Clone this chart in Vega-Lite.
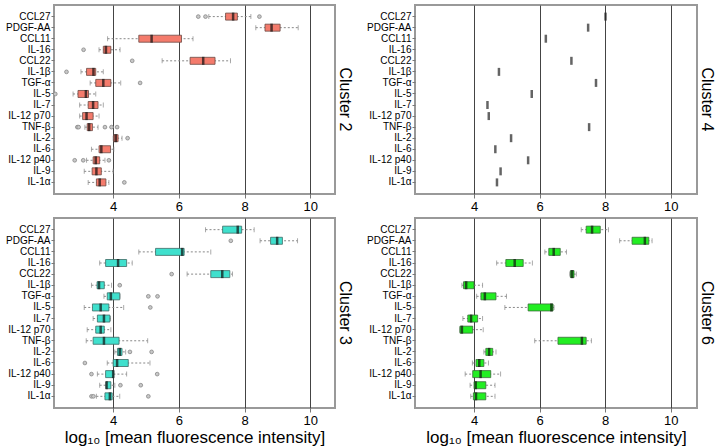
{
  "$schema": "https://vega.github.io/schema/vega-lite/v6.json",
  "background": "white",
  "padding": {"left": 4, "top": 4, "right": 0, "bottom": 0},
  "spacing": 3,
  "datasets": {
    "boxes": [
      {"cluster": "Cluster 2", "cytokine": "CCL27", "lo": 6.91, "q1": 7.42, "med": 7.65, "q3": 7.78, "hi": 8.19},
      {"cluster": "Cluster 2", "cytokine": "PDGF-AA", "lo": 8.34, "q1": 8.62, "med": 8.82, "q3": 9.08, "hi": 9.63},
      {"cluster": "Cluster 2", "cytokine": "CCL11", "lo": 3.83, "q1": 4.78, "med": 5.17, "q3": 6.08, "hi": 6.43},
      {"cluster": "Cluster 2", "cytokine": "IL-16", "lo": 3.57, "q1": 3.70, "med": 3.78, "q3": 3.93, "hi": 4.21},
      {"cluster": "Cluster 2", "cytokine": "CCL22", "lo": 5.49, "q1": 6.34, "med": 6.74, "q3": 7.10, "hi": 7.57},
      {"cluster": "Cluster 2", "cytokine": "IL-1β", "lo": 3.02, "q1": 3.19, "med": 3.40, "q3": 3.47, "hi": 3.70},
      {"cluster": "Cluster 2", "cytokine": "TGF-α", "lo": 3.30, "q1": 3.47, "med": 3.70, "q3": 3.93, "hi": 4.23},
      {"cluster": "Cluster 2", "cytokine": "IL-5", "lo": 2.78, "q1": 2.93, "med": 3.17, "q3": 3.25, "hi": 3.47},
      {"cluster": "Cluster 2", "cytokine": "IL-7", "lo": 2.98, "q1": 3.24, "med": 3.39, "q3": 3.54, "hi": 3.70},
      {"cluster": "Cluster 2", "cytokine": "IL-12 p70", "lo": 2.98, "q1": 3.07, "med": 3.19, "q3": 3.39, "hi": 3.57},
      {"cluster": "Cluster 2", "cytokine": "TNF-β", "lo": 3.14, "q1": 3.21, "med": 3.27, "q3": 3.37, "hi": 3.54},
      {"cluster": "Cluster 2", "cytokine": "IL-2", "lo": 4.00, "q1": 4.02, "med": 4.08, "q3": 4.15, "hi": 4.27},
      {"cluster": "Cluster 2", "cytokine": "IL-6", "lo": 3.34, "q1": 3.57, "med": 3.64, "q3": 3.92, "hi": 4.02},
      {"cluster": "Cluster 2", "cytokine": "IL-12 p40", "lo": 3.19, "q1": 3.39, "med": 3.47, "q3": 3.59, "hi": 3.75},
      {"cluster": "Cluster 2", "cytokine": "IL-9", "lo": 3.12, "q1": 3.36, "med": 3.49, "q3": 3.64, "hi": 4.00},
      {"cluster": "Cluster 2", "cytokine": "IL-1α", "lo": 3.24, "q1": 3.49, "med": 3.59, "q3": 3.78, "hi": 3.87},
      {"cluster": "Cluster 3", "cytokine": "CCL27", "lo": 6.81, "q1": 7.33, "med": 7.79, "q3": 7.91, "hi": 8.29},
      {"cluster": "Cluster 3", "cytokine": "PDGF-AA", "lo": 8.47, "q1": 8.79, "med": 8.99, "q3": 9.15, "hi": 9.61},
      {"cluster": "Cluster 3", "cytokine": "CCL11", "lo": 4.78, "q1": 5.29, "med": 6.10, "q3": 6.16, "hi": 6.97},
      {"cluster": "Cluster 3", "cytokine": "IL-16", "lo": 3.59, "q1": 3.77, "med": 4.15, "q3": 4.41, "hi": 4.58},
      {"cluster": "Cluster 3", "cytokine": "CCL22", "lo": 6.25, "q1": 6.97, "med": 7.32, "q3": 7.55, "hi": 7.63},
      {"cluster": "Cluster 3", "cytokine": "IL-1β", "lo": 3.34, "q1": 3.51, "med": 3.57, "q3": 3.73, "hi": 3.95},
      {"cluster": "Cluster 3", "cytokine": "TGF-α", "lo": 3.72, "q1": 3.82, "med": 3.93, "q3": 4.20, "hi": 4.21},
      {"cluster": "Cluster 3", "cytokine": "IL-5", "lo": 3.12, "q1": 3.37, "med": 3.62, "q3": 3.87, "hi": 4.32},
      {"cluster": "Cluster 3", "cytokine": "IL-7", "lo": 3.39, "q1": 3.52, "med": 3.72, "q3": 3.90, "hi": 3.92},
      {"cluster": "Cluster 3", "cytokine": "IL-12 p70", "lo": 3.21, "q1": 3.47, "med": 3.62, "q3": 3.73, "hi": 3.93},
      {"cluster": "Cluster 3", "cytokine": "TNF-β", "lo": 3.18, "q1": 3.39, "med": 3.72, "q3": 4.18, "hi": 5.05},
      {"cluster": "Cluster 3", "cytokine": "IL-2", "lo": 4.05, "q1": 4.13, "med": 4.20, "q3": 4.27, "hi": 4.38},
      {"cluster": "Cluster 3", "cytokine": "IL-6", "lo": 3.82, "q1": 4.00, "med": 4.12, "q3": 4.46, "hi": 5.12},
      {"cluster": "Cluster 3", "cytokine": "IL-12 p40", "lo": 3.52, "q1": 3.77, "med": 4.00, "q3": 4.02, "hi": 4.41},
      {"cluster": "Cluster 3", "cytokine": "IL-9", "lo": 3.59, "q1": 3.78, "med": 3.80, "q3": 3.93, "hi": 4.05},
      {"cluster": "Cluster 3", "cytokine": "IL-1α", "lo": 3.49, "q1": 3.75, "med": 3.90, "q3": 3.97, "hi": 4.20},
      {"cluster": "Cluster 6", "cytokine": "CCL27", "lo": 7.27, "q1": 7.42, "med": 7.60, "q3": 7.85, "hi": 8.10},
      {"cluster": "Cluster 6", "cytokine": "PDGF-AA", "lo": 8.44, "q1": 8.82, "med": 9.21, "q3": 9.33, "hi": 9.43},
      {"cluster": "Cluster 6", "cytokine": "CCL11", "lo": 6.16, "q1": 6.28, "med": 6.43, "q3": 6.63, "hi": 6.82},
      {"cluster": "Cluster 6", "cytokine": "IL-16", "lo": 4.69, "q1": 4.97, "med": 5.24, "q3": 5.50, "hi": 5.78},
      {"cluster": "Cluster 6", "cytokine": "CCL22", "lo": 6.92, "q1": 6.94, "med": 6.99, "q3": 7.05, "hi": 7.12},
      {"cluster": "Cluster 6", "cytokine": "IL-1β", "lo": 3.63, "q1": 3.68, "med": 3.76, "q3": 4.00, "hi": 4.26},
      {"cluster": "Cluster 6", "cytokine": "TGF-α", "lo": 4.08, "q1": 4.21, "med": 4.33, "q3": 4.67, "hi": 4.99},
      {"cluster": "Cluster 6", "cytokine": "IL-5", "lo": 4.94, "q1": 5.65, "med": 6.36, "q3": 6.41, "hi": 6.44},
      {"cluster": "Cluster 6", "cytokine": "IL-7", "lo": 3.66, "q1": 3.81, "med": 3.91, "q3": 4.11, "hi": 4.26},
      {"cluster": "Cluster 6", "cytokine": "IL-12 p70", "lo": 3.57, "q1": 3.57, "med": 3.63, "q3": 3.96, "hi": 4.28},
      {"cluster": "Cluster 6", "cytokine": "TNF-β", "lo": 5.85, "q1": 6.56, "med": 7.29, "q3": 7.42, "hi": 7.58},
      {"cluster": "Cluster 6", "cytokine": "IL-2", "lo": 4.30, "q1": 4.36, "med": 4.46, "q3": 4.57, "hi": 4.67},
      {"cluster": "Cluster 6", "cytokine": "IL-6", "lo": 3.95, "q1": 4.06, "med": 4.16, "q3": 4.30, "hi": 4.44},
      {"cluster": "Cluster 6", "cytokine": "IL-12 p40", "lo": 3.73, "q1": 3.96, "med": 4.20, "q3": 4.51, "hi": 4.81},
      {"cluster": "Cluster 6", "cytokine": "IL-9", "lo": 3.88, "q1": 4.00, "med": 4.05, "q3": 4.36, "hi": 4.64},
      {"cluster": "Cluster 6", "cytokine": "IL-1α", "lo": 3.90, "q1": 3.98, "med": 4.06, "q3": 4.36, "hi": 4.64}
    ],
    "outliers": [
      {"cluster": "Cluster 2", "cytokine": "CCL27", "value": 6.59},
      {"cluster": "Cluster 2", "cytokine": "CCL27", "value": 6.81},
      {"cluster": "Cluster 2", "cytokine": "CCL27", "value": 8.45},
      {"cluster": "Cluster 2", "cytokine": "IL-16", "value": 3.10},
      {"cluster": "Cluster 2", "cytokine": "CCL22", "value": 4.58},
      {"cluster": "Cluster 2", "cytokine": "IL-1β", "value": 2.58},
      {"cluster": "Cluster 2", "cytokine": "TGF-α", "value": 4.82},
      {"cluster": "Cluster 2", "cytokine": "IL-5", "value": 2.24},
      {"cluster": "Cluster 2", "cytokine": "TNF-β", "value": 2.91},
      {"cluster": "Cluster 2", "cytokine": "TNF-β", "value": 2.95},
      {"cluster": "Cluster 2", "cytokine": "TNF-β", "value": 3.75},
      {"cluster": "Cluster 2", "cytokine": "TNF-β", "value": 3.95},
      {"cluster": "Cluster 2", "cytokine": "TNF-β", "value": 4.12},
      {"cluster": "Cluster 2", "cytokine": "IL-2", "value": 4.44},
      {"cluster": "Cluster 2", "cytokine": "IL-12 p40", "value": 2.83},
      {"cluster": "Cluster 2", "cytokine": "IL-12 p40", "value": 3.09},
      {"cluster": "Cluster 2", "cytokine": "IL-12 p40", "value": 3.87},
      {"cluster": "Cluster 2", "cytokine": "IL-1α", "value": 4.34},
      {"cluster": "Cluster 3", "cytokine": "PDGF-AA", "value": 7.58},
      {"cluster": "Cluster 3", "cytokine": "CCL22", "value": 5.78},
      {"cluster": "Cluster 3", "cytokine": "IL-1β", "value": 4.20},
      {"cluster": "Cluster 3", "cytokine": "TGF-α", "value": 5.07},
      {"cluster": "Cluster 3", "cytokine": "TGF-α", "value": 5.35},
      {"cluster": "Cluster 3", "cytokine": "IL-5", "value": 5.13},
      {"cluster": "Cluster 3", "cytokine": "IL-2", "value": 4.51},
      {"cluster": "Cluster 3", "cytokine": "IL-2", "value": 5.17},
      {"cluster": "Cluster 3", "cytokine": "IL-6", "value": 3.14},
      {"cluster": "Cluster 3", "cytokine": "IL-12 p40", "value": 3.34},
      {"cluster": "Cluster 3", "cytokine": "IL-12 p40", "value": 5.34},
      {"cluster": "Cluster 3", "cytokine": "IL-9", "value": 4.22},
      {"cluster": "Cluster 3", "cytokine": "IL-9", "value": 4.84},
      {"cluster": "Cluster 3", "cytokine": "IL-1α", "value": 3.34},
      {"cluster": "Cluster 3", "cytokine": "IL-1α", "value": 3.40},
      {"cluster": "Cluster 3", "cytokine": "IL-1α", "value": 5.07}
    ],
    "single": [
      {"cluster": "Cluster 4", "cytokine": "CCL27", "med": 8.01},
      {"cluster": "Cluster 4", "cytokine": "PDGF-AA", "med": 7.48},
      {"cluster": "Cluster 4", "cytokine": "CCL11", "med": 6.19},
      {"cluster": "Cluster 4", "cytokine": "CCL22", "med": 6.97},
      {"cluster": "Cluster 4", "cytokine": "IL-1β", "med": 4.76},
      {"cluster": "Cluster 4", "cytokine": "TGF-α", "med": 7.72},
      {"cluster": "Cluster 4", "cytokine": "IL-5", "med": 5.76},
      {"cluster": "Cluster 4", "cytokine": "IL-7", "med": 4.41},
      {"cluster": "Cluster 4", "cytokine": "IL-12 p70", "med": 4.45},
      {"cluster": "Cluster 4", "cytokine": "TNF-β", "med": 7.51},
      {"cluster": "Cluster 4", "cytokine": "IL-2", "med": 5.13},
      {"cluster": "Cluster 4", "cytokine": "IL-6", "med": 4.65},
      {"cluster": "Cluster 4", "cytokine": "IL-12 p40", "med": 5.65},
      {"cluster": "Cluster 4", "cytokine": "IL-9", "med": 4.81},
      {"cluster": "Cluster 4", "cytokine": "IL-1α", "med": 4.70}
    ]
  },
  "vconcat": [
    {
      "spacing": 11,
      "hconcat": [
        {
          "width": 281, "height": 189,
          "title": {"text": "Cluster 2", "orient": "right", "anchor": "middle", "fontSize": 16, "fontWeight": "normal", "font": "Liberation Sans", "offset": 2, "color": "#000"},
          "data": {"name": "boxes"},
          "transform": [{"filter": "datum.cluster == 'Cluster 2'"}],
          "encoding": {
            "y": {"field": "cytokine", "type": "nominal", "title": null, "scale": {"domain": ["CCL27","PDGF-AA","CCL11","IL-16","CCL22","IL-1β","TGF-α","IL-5","IL-7","IL-12 p70","TNF-β","IL-2","IL-6","IL-12 p40","IL-9","IL-1α"], "paddingInner": 0, "paddingOuter": 0.55}}
          },
          "layer": [
            {"mark": {"type": "rule", "strokeDash": [2, 2], "color": "#888", "strokeWidth": 1}, "encoding": {"x": {"field": "lo", "type": "quantitative", "scale": {"domain": [2.2, 10.75], "nice": false, "zero": false}, "axis": {"values": [4, 6, 8, 10], "title": null}}, "x2": {"field": "hi"}}},
            {"mark": {"type": "tick", "color": "#888", "size": 5, "thickness": 1}, "encoding": {"x": {"field": "lo", "type": "quantitative"}}},
            {"mark": {"type": "tick", "color": "#888", "size": 5, "thickness": 1}, "encoding": {"x": {"field": "hi", "type": "quantitative"}}},
            {"mark": {"type": "bar", "fill": "#F47B6C", "stroke": "#6b4a44", "strokeWidth": 0.8, "size": 7}, "encoding": {"x": {"field": "q1", "type": "quantitative"}, "x2": {"field": "q3"}}},
            {"mark": {"type": "tick", "color": "#111", "size": 8, "thickness": 2.5}, "encoding": {"x": {"field": "med", "type": "quantitative"}}},
            {"data": {"name": "outliers"}, "transform": [{"filter": "datum.cluster == 'Cluster 2'"}], "mark": {"type": "point", "shape": "circle", "filled": true, "fill": "#c8c8c8", "stroke": "#888", "strokeWidth": 0.8, "size": 14, "opacity": 1}, "encoding": {"x": {"field": "value", "type": "quantitative"}}}
          ]
        },
        {
          "width": 282, "height": 189,
          "title": {"text": "Cluster 4", "orient": "right", "anchor": "middle", "fontSize": 16, "fontWeight": "normal", "font": "Liberation Sans", "offset": 2, "color": "#000"},
          "data": {"name": "single"},
          "encoding": {
            "y": {"field": "cytokine", "type": "nominal", "title": null, "scale": {"domain": ["CCL27","PDGF-AA","CCL11","IL-16","CCL22","IL-1β","TGF-α","IL-5","IL-7","IL-12 p70","TNF-β","IL-2","IL-6","IL-12 p40","IL-9","IL-1α"], "paddingInner": 0, "paddingOuter": 0.55}}
          },
          "layer": [
            {"mark": {"type": "tick", "color": "#222", "size": 8, "thickness": 2.5}, "encoding": {"x": {"field": "med", "type": "quantitative", "scale": {"domain": [2.2, 10.8], "nice": false, "zero": false}, "axis": {"values": [4, 6, 8, 10], "title": null}}}}
          ]
        }
      ]
    },
    {
      "spacing": 11,
      "hconcat": [
        {
          "width": 281, "height": 190,
          "title": {"text": "Cluster 3", "orient": "right", "anchor": "middle", "fontSize": 16, "fontWeight": "normal", "font": "Liberation Sans", "offset": 2, "color": "#000"},
          "data": {"name": "boxes"},
          "transform": [{"filter": "datum.cluster == 'Cluster 3'"}],
          "encoding": {
            "y": {"field": "cytokine", "type": "nominal", "title": null, "scale": {"domain": ["CCL27","PDGF-AA","CCL11","IL-16","CCL22","IL-1β","TGF-α","IL-5","IL-7","IL-12 p70","TNF-β","IL-2","IL-6","IL-12 p40","IL-9","IL-1α"], "paddingInner": 0, "paddingOuter": 0.55}}
          },
          "layer": [
            {"mark": {"type": "rule", "strokeDash": [2, 2], "color": "#888", "strokeWidth": 1}, "encoding": {"x": {"field": "lo", "type": "quantitative", "scale": {"domain": [2.2, 10.75], "nice": false, "zero": false}, "axis": {"values": [4, 6, 8, 10], "title": "log₁₀ [mean fluorescence intensity]"}}, "x2": {"field": "hi"}}},
            {"mark": {"type": "tick", "color": "#888", "size": 5, "thickness": 1}, "encoding": {"x": {"field": "lo", "type": "quantitative"}}},
            {"mark": {"type": "tick", "color": "#888", "size": 5, "thickness": 1}, "encoding": {"x": {"field": "hi", "type": "quantitative"}}},
            {"mark": {"type": "bar", "fill": "#3FE0CD", "stroke": "#3d6b66", "strokeWidth": 0.8, "size": 7}, "encoding": {"x": {"field": "q1", "type": "quantitative"}, "x2": {"field": "q3"}}},
            {"mark": {"type": "tick", "color": "#111", "size": 8, "thickness": 2.5}, "encoding": {"x": {"field": "med", "type": "quantitative"}}},
            {"data": {"name": "outliers"}, "transform": [{"filter": "datum.cluster == 'Cluster 3'"}], "mark": {"type": "point", "shape": "circle", "filled": true, "fill": "#c8c8c8", "stroke": "#888", "strokeWidth": 0.8, "size": 14, "opacity": 1}, "encoding": {"x": {"field": "value", "type": "quantitative"}}}
          ]
        },
        {
          "width": 282, "height": 190,
          "title": {"text": "Cluster 6", "orient": "right", "anchor": "middle", "fontSize": 16, "fontWeight": "normal", "font": "Liberation Sans", "offset": 2, "color": "#000"},
          "data": {"name": "boxes"},
          "transform": [{"filter": "datum.cluster == 'Cluster 6'"}],
          "encoding": {
            "y": {"field": "cytokine", "type": "nominal", "title": null, "scale": {"domain": ["CCL27","PDGF-AA","CCL11","IL-16","CCL22","IL-1β","TGF-α","IL-5","IL-7","IL-12 p70","TNF-β","IL-2","IL-6","IL-12 p40","IL-9","IL-1α"], "paddingInner": 0, "paddingOuter": 0.55}}
          },
          "layer": [
            {"mark": {"type": "rule", "strokeDash": [2, 2], "color": "#888", "strokeWidth": 1}, "encoding": {"x": {"field": "lo", "type": "quantitative", "scale": {"domain": [2.2, 10.8], "nice": false, "zero": false}, "axis": {"values": [4, 6, 8, 10], "title": "log₁₀ [mean fluorescence intensity]"}}, "x2": {"field": "hi"}}},
            {"mark": {"type": "tick", "color": "#888", "size": 5, "thickness": 1}, "encoding": {"x": {"field": "lo", "type": "quantitative"}}},
            {"mark": {"type": "tick", "color": "#888", "size": 5, "thickness": 1}, "encoding": {"x": {"field": "hi", "type": "quantitative"}}},
            {"mark": {"type": "bar", "fill": "#22EE22", "stroke": "#3a6b3a", "strokeWidth": 0.8, "size": 7}, "encoding": {"x": {"field": "q1", "type": "quantitative"}, "x2": {"field": "q3"}}},
            {"mark": {"type": "tick", "color": "#111", "size": 8, "thickness": 2.5}, "encoding": {"x": {"field": "med", "type": "quantitative"}}}
          ]
        }
      ]
    }
  ],
  "config": {
    "view": {"stroke": "#999", "strokeWidth": 2},
    "axis": {"labelFont": "Liberation Sans", "titleFont": "Liberation Sans", "labelColor": "#000", "titleColor": "#000", "tickColor": "#777", "domain": false},
    "axisX": {"grid": true, "gridColor": "#444", "gridOpacity": 1, "gridWidth": 1, "labelFontSize": 13, "tickSize": 4, "labelPadding": 2, "titleFontSize": 17, "titleFontWeight": "normal", "titlePadding": 2},
    "axisY": {"grid": false, "labelFontSize": 10, "tickSize": 3, "labelPadding": 1}
  }
}
